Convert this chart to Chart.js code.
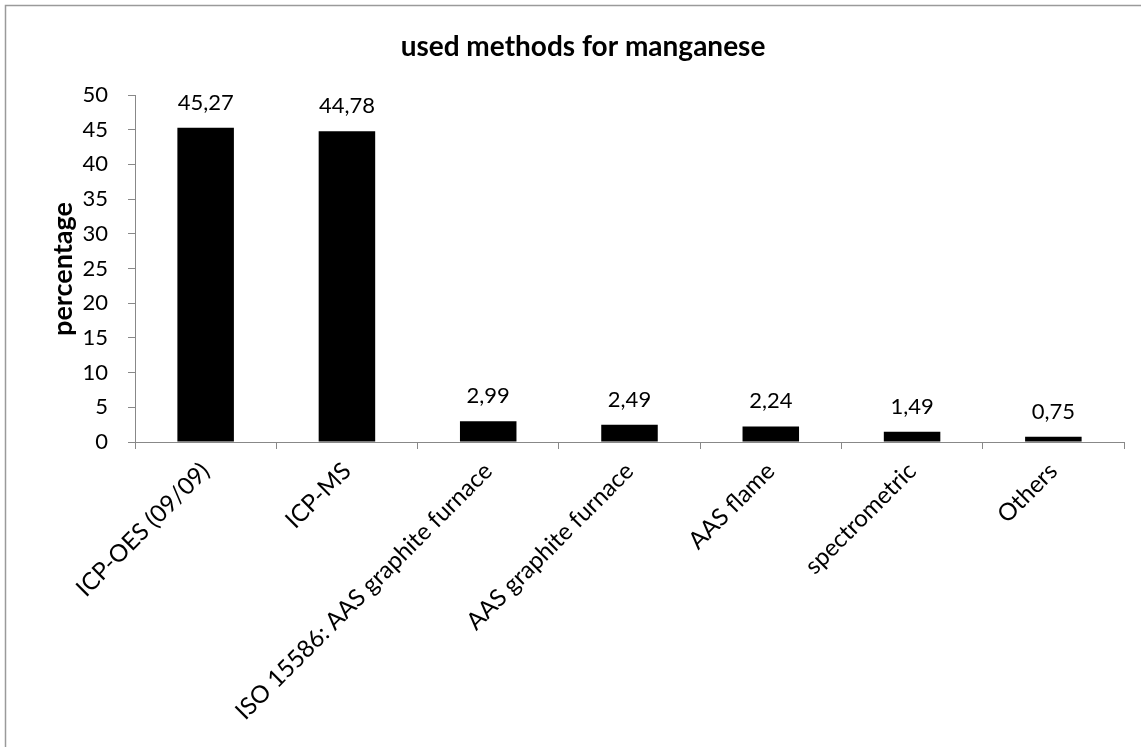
<!DOCTYPE html>
<html>
<head>
<meta charset="utf-8">
<script src="https://cdn.jsdelivr.net/npm/chart.js@4/dist/chart.umd.min.js"></script>
<style>
html,body{margin:0;padding:0;background:#fff;}
#wrap{position:absolute;left:0;top:0;width:1141px;height:747px;}
</style>
</head>
<body>
<div id="wrap"><canvas id="c" width="1141" height="747"></canvas></div>
<script>
const categories = ["ICP-OES (09/09)", "ICP-MS", "ISO 15586: AAS graphite furnace", "AAS graphite furnace", "AAS flame", "spectrometric", "Others"];
const percentages = [45.27, 44.78, 2.99, 2.49, 2.24, 1.49, 0.75];
const yTicks = [0, 5, 10, 15, 20, 25, 30, 35, 40, 45, 50];
const chartTitle = "used methods for manganese";
const yTitle = "percentage";

const FONT = "Lato, 'Open Sans', sans-serif";

const decor = {
  id: 'decor',
  beforeDraw(chart) {
    const ctx = chart.ctx;
    ctx.save();
    ctx.fillStyle = '#fff';
    ctx.fillRect(0, 0, chart.width, chart.height);
    ctx.strokeStyle = '#9a9a9a';
    ctx.lineWidth = 1.5;
    ctx.strokeRect(5.5, 5.5, 1150, 760);
    ctx.restore();
  },
  afterDraw(chart) {
    const ctx = chart.ctx;
    ctx.save();
    ctx.fillStyle = '#000';
    ctx.font = "bold 28px " + FONT;
    ctx.textAlign = 'center';
    ctx.textBaseline = 'alphabetic';
    ctx.fillText(chartTitle, 583, 56);
    ctx.font = "bold 27px " + FONT;
    ctx.textBaseline = 'middle';
    ctx.translate(63, 269);
    ctx.rotate(-Math.PI / 2);
    ctx.fillText(yTitle, 0, 0);
    ctx.restore();
    // data labels
    const meta = chart.getDatasetMeta(0);
    ctx.save();
    ctx.fillStyle = '#000';
    ctx.font = "22px " + FONT;
    ctx.textAlign = 'center';
    ctx.textBaseline = 'alphabetic';
    meta.data.forEach((bar, i) => {
      const txt = percentages[i].toFixed(2).replace('.', ',');
      ctx.fillText(txt, bar.x, bar.y - 18);
    });
    ctx.restore();
  }
};

new Chart(document.getElementById('c'), {
  type: 'bar',
  data: {
    labels: categories,
    datasets: [{
      data: percentages,
      backgroundColor: '#000',
      borderWidth: 0,
      categoryPercentage: 1,
      barPercentage: 0.4
    }]
  },
  options: {
    responsive: false,
    animation: false,
    devicePixelRatio: 1,
    layout: { padding: { top: 95, right: 17, left: 0, bottom: 0 } },
    plugins: { legend: { display: false }, tooltip: { enabled: false }, title: { display: false } },
    scales: {
      x: {
        grid: { display: true, drawOnChartArea: false, color: '#888', tickLength: 7, offset: true },
        border: { color: '#888', width: 1 },
        ticks: { color: '#000', font: { family: FONT, size: 24 }, maxRotation: 45, minRotation: 45, padding: 8, autoSkip: false },
        afterFit(scale) { scale.height = 305; }
      },
      y: {
        min: 0, max: 50,
        afterBuildTicks(scale) { scale.ticks = yTicks.map(v => ({ value: v })); },
        grid: { display: true, drawOnChartArea: false, color: '#888', tickLength: 7 },
        border: { color: '#888', width: 1 },
        ticks: { color: '#000', font: { family: FONT, size: 22 }, padding: 20 },
        afterFit(scale) { scale.width = 135; }
      }
    }
  },
  plugins: [decor]
});
</script>
</body>
</html>
